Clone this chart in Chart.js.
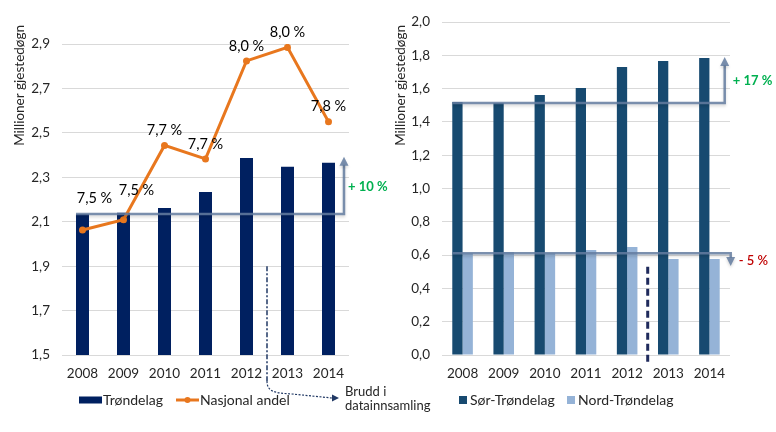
<!DOCTYPE html>
<html><head><meta charset="utf-8">
<script src="https://cdn.jsdelivr.net/npm/chart.js@4"></script>
<style>
html,body{margin:0;padding:0;background:#fff;width:776px;height:432px;overflow:hidden}
#left{position:absolute;left:0;top:0;z-index:1}
#right{position:absolute;left:390px;top:0;z-index:2}
</style></head><body>
<canvas id="left" width="440" height="432"></canvas>
<canvas id="right" width="386" height="432"></canvas>
<script>
// ---- data ----
const years = ['2008', '2009', '2010', '2011', '2012', '2013', '2014'];
const trondelag = [2.135, 2.14, 2.162, 2.234, 2.387, 2.347, 2.365];
const nasjonalAndel = [7.47, 7.50, 7.72, 7.68, 7.97, 8.01, 7.79];
const sorTrondelag = [1.52, 1.513, 1.562, 1.604, 1.73, 1.766, 1.784];
const nordTrondelag = [0.611, 0.619, 0.611, 0.631, 0.649, 0.577, 0.577];
const leftAxis = [1.5, 2.9, 0.2];
const rightAxis = [0, 2.0, 0.2];
const andelAxis = [7.1, 8.02];
const growthLabels = ['+ 10 %', '+ 17 %', '- 5 %'];
const axisTitle = 'Millioner gjestedøgn';
const breakText = ['Brudd i', 'datainnsamling'];

// ---- style ----
const FONT = 'Lato, "Open Sans", sans-serif';
const NAVY = '#002060', ORANGE = '#E8771E', DARK = '#174A70', LIGHT = '#95B3D7';
const TXT = '#262626', GRID = '#d9d9d9';
const ANN = 'rgba(100,124,160,0.85)';
const fmt = v => v.toFixed(1).replace('.', ',');

function arrowHead(ctx, x, y, dir) {
  ctx.beginPath();
  ctx.moveTo(x, y);
  ctx.lineTo(x - 4.5, y - dir * 9);
  ctx.lineTo(x + 4.5, y - dir * 9);
  ctx.closePath();
  ctx.fill();
}
function drawGrowth(ctx, x0, x1, yBase, yTip, label, color, dx, weight) {
  const dir = yTip < yBase ? -1 : 1;
  ctx.save();
  ctx.strokeStyle = ANN; ctx.fillStyle = ANN; ctx.lineWidth = 2.5;
  ctx.shadowColor = 'rgba(0,0,0,0.18)'; ctx.shadowBlur = 3; ctx.shadowOffsetY = 2;
  ctx.beginPath();
  ctx.moveTo(x0, yBase); ctx.lineTo(x1, yBase); ctx.lineTo(x1, yTip - dir * 8);
  ctx.stroke();
  arrowHead(ctx, x1, yTip, dir);
  ctx.shadowColor = 'transparent';
  ctx.font = weight + ' 13px ' + FONT;
  ctx.fillStyle = color; ctx.textAlign = 'left'; ctx.textBaseline = 'middle';
  ctx.fillText(label, x1 + dx, (yBase + yTip) / 2 + 1);
  ctx.restore();
}
function drawTitle(ctx, x, y) {
  ctx.save();
  ctx.translate(x, y); ctx.rotate(-Math.PI / 2);
  ctx.font = '13.5px ' + FONT; ctx.fillStyle = TXT;
  ctx.textAlign = 'right'; ctx.textBaseline = 'middle';
  ctx.fillText(axisTitle, 0, 0);
  ctx.restore();
}
function legendText(ctx, t, x, y) {
  ctx.font = '14px ' + FONT; ctx.fillStyle = TXT;
  ctx.textAlign = 'left'; ctx.textBaseline = 'middle';
  ctx.fillText(t, x, y);
}

const commonTicks = { color: TXT, font: { family: FONT, size: 13.5 } };

// ---- left chart ----
const labelNudge = [[12, -17], [13, -14], [0, 0], [0, 0], [0, 0], [0, 0], [0, 0]];
const leftPlugin = {
  id: 'leftDecor',
  afterDatasetsDraw(chart) {
    const ctx = chart.ctx, y = chart.scales.y, x = chart.scales.x;
    const bars = chart.getDatasetMeta(1).data, pts = chart.getDatasetMeta(0).data;
    const bw = bars[0].width;
    const x0 = bars[0].x - bw / 2, x1 = bars[6].x + bw / 2 + 9;
    drawGrowth(ctx, x0, x1, y.getPixelForValue(trondelag[0]), y.getPixelForValue(trondelag[6]) - 6,
      growthLabels[0], '#00B050', 4, 'bold');
    ctx.save();
    ctx.font = '14.5px ' + FONT; ctx.fillStyle = '#000'; ctx.textAlign = 'center'; ctx.textBaseline = 'middle';
    pts.forEach((p, i) => {
      ctx.fillText(fmt(nasjonalAndel[i]) + ' %', p.x + labelNudge[i][0], p.y - 15 + labelNudge[i][1]);
    });
    ctx.restore();
    const xb = (x.getPixelForValue(4) + x.getPixelForValue(5)) / 2;
    const yTop = y.getPixelForValue(1.9);
    ctx.save();
    ctx.strokeStyle = '#203864'; ctx.fillStyle = '#203864'; ctx.lineWidth = 1.5;
    ctx.setLineDash([5, 2, 2, 2]);
    ctx.beginPath(); ctx.moveTo(xb, yTop); ctx.lineTo(xb, 381); ctx.stroke();
    ctx.lineWidth = 1.2; ctx.setLineDash([2, 1.5]);
    ctx.beginPath(); ctx.moveTo(xb, 381);
    ctx.bezierCurveTo(xb, 392, xb + 8, 393, xb + 25, 394);
    ctx.lineTo(332, 398); ctx.stroke();
    ctx.setLineDash([]);
    ctx.beginPath(); ctx.moveTo(339, 398); ctx.lineTo(332, 394.5); ctx.lineTo(332, 401.5); ctx.closePath(); ctx.fill();
    ctx.restore();
    ctx.save();
    ctx.font = '13px ' + FONT; ctx.fillStyle = TXT; ctx.textAlign = 'left'; ctx.textBaseline = 'middle';
    ctx.fillText(breakText[0], 345, 392);
    ctx.fillText(breakText[1], 345, 406);
    ctx.restore();
    drawTitle(ctx, 20, 25);
    ctx.save();
    ctx.fillStyle = NAVY; ctx.fillRect(79, 396.5, 23, 7);
    legendText(ctx, 'Trøndelag', 103, 400);
    ctx.strokeStyle = ORANGE; ctx.lineWidth = 3;
    ctx.beginPath(); ctx.moveTo(176, 400); ctx.lineTo(199, 400); ctx.stroke();
    ctx.fillStyle = ORANGE; ctx.beginPath(); ctx.arc(187.5, 400, 3, 0, Math.PI * 2); ctx.fill();
    legendText(ctx, 'Nasjonal andel', 200, 400);
    ctx.restore();
  }
};

new Chart(document.getElementById('left'), {
  data: {
    labels: years,
    datasets: [
      { type: 'line', label: 'Nasjonal andel', data: nasjonalAndel, yAxisID: 'y2',
        borderColor: ORANGE, backgroundColor: ORANGE, borderWidth: 3, pointRadius: 3.5,
        pointBackgroundColor: ORANGE, pointBorderWidth: 0, tension: 0, order: 0 },
      { type: 'bar', label: 'Trøndelag', data: trondelag, yAxisID: 'y',
        backgroundColor: NAVY, barPercentage: 0.317, categoryPercentage: 1, order: 1 }
    ]
  },
  options: {
    responsive: false, animation: false, devicePixelRatio: 1,
    layout: { padding: { left: 0, right: 91, top: 44, bottom: 47 } },
    plugins: { legend: { display: false }, tooltip: { enabled: false } },
    scales: {
      x: { offset: true, grid: { display: false }, border: { display: false },
           ticks: { ...commonTicks, padding: 3 }, afterFit(s) { s.height = 30; } },
      y: { min: leftAxis[0], max: leftAxis[1],
           ticks: { ...commonTicks, stepSize: leftAxis[2], padding: 12, callback: v => fmt(v) },
           grid: { color: GRID, drawTicks: false }, border: { display: false },
           afterFit(s) { s.width = 62; } },
      y2: { display: false, min: andelAxis[0], max: andelAxis[1] }
    }
  },
  plugins: [leftPlugin]
});

// ---- right chart ----
const rightPlugin = {
  id: 'rightDecor',
  afterDatasetsDraw(chart) {
    const ctx = chart.ctx, y = chart.scales.y, x = chart.scales.x;
    const sor = chart.getDatasetMeta(0).data, nord = chart.getDatasetMeta(1).data;
    const bw = sor[0].width;
    const x0 = sor[0].x - bw / 2;
    drawGrowth(ctx, x0, nord[6].x + bw / 2 + 5, y.getPixelForValue(sorTrondelag[0]) + 1,
      y.getPixelForValue(sorTrondelag[6]) - 1, growthLabels[1], '#00B050', 8, 'bold');
    drawGrowth(ctx, x0, nord[6].x + bw / 2 + 11, y.getPixelForValue(nordTrondelag[0]),
      y.getPixelForValue(nordTrondelag[6]) + 7, growthLabels[2], '#C00000', 8, '600');
    const xb = (x.getPixelForValue(4) + x.getPixelForValue(5)) / 2;
    ctx.save();
    ctx.strokeStyle = '#1F2A5C'; ctx.lineWidth = 3; ctx.setLineDash([7, 4]);
    ctx.beginPath(); ctx.moveTo(xb, y.getPixelForValue(0.53)); ctx.lineTo(xb, chart.chartArea.bottom + 10); ctx.stroke();
    ctx.restore();
    drawTitle(ctx, 11, 25);
    ctx.save();
    ctx.fillStyle = DARK; ctx.fillRect(69, 396, 8, 8);
    legendText(ctx, 'Sør-Trøndelag', 80, 400);
    ctx.fillStyle = LIGHT; ctx.fillRect(177, 396, 8, 8);
    legendText(ctx, 'Nord-Trøndelag', 188, 400);
    ctx.restore();
  }
};

new Chart(document.getElementById('right'), {
  type: 'bar',
  data: {
    labels: years,
    datasets: [
      { label: 'Sør-Trøndelag', data: sorTrondelag, backgroundColor: DARK, barPercentage: 1, categoryPercentage: 0.5 },
      { label: 'Nord-Trøndelag', data: nordTrondelag, backgroundColor: LIGHT, barPercentage: 1, categoryPercentage: 0.5 }
    ]
  },
  options: {
    responsive: false, animation: false, devicePixelRatio: 1,
    layout: { padding: { left: 0, right: 46, top: 22, bottom: 47 } },
    plugins: { legend: { display: false }, tooltip: { enabled: false } },
    scales: {
      x: { grid: { display: false }, border: { display: false },
           ticks: { ...commonTicks, padding: 3 }, afterFit(s) { s.height = 30; } },
      y: { min: rightAxis[0], max: rightAxis[1],
           ticks: { ...commonTicks, stepSize: rightAxis[2], padding: 12, callback: v => fmt(v) },
           grid: { color: GRID, drawTicks: false }, border: { display: false },
           afterFit(s) { s.width = 52; } }
    }
  },
  plugins: [rightPlugin]
});
</script>
</body></html>
